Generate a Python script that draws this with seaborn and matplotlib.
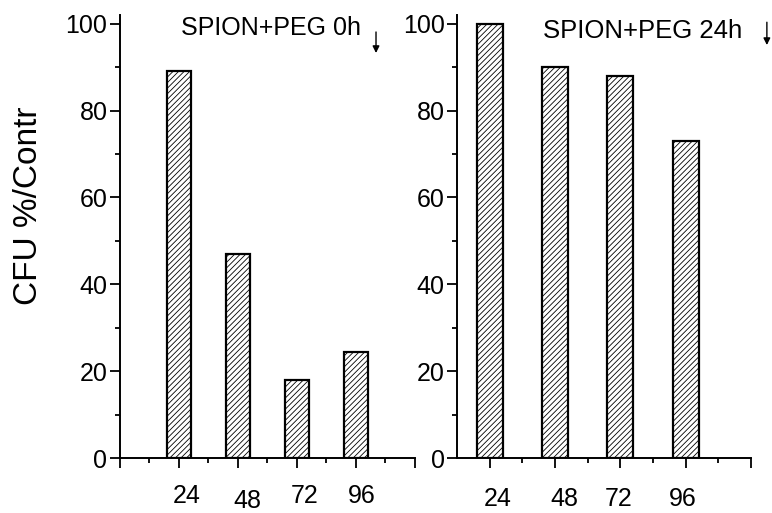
import matplotlib
matplotlib.use("Agg")
import matplotlib.pyplot as plt
import matplotlib.transforms as mtransforms
import pandas as pd
import seaborn as sns

# data
hours = [24, 48, 72, 96]
cfu_0h = [89, 47, 18, 24.5]
cfu_24h = [100, 90, 88, 73]
titles = ["SPION+PEG 0h", "SPION+PEG 24h"]
ylabel = "CFU %/Contr"

sns.set_style("ticks")
plt.rcParams["font.family"] = ["Liberation Sans", "DejaVu Sans"]
plt.rcParams["hatch.linewidth"] = 0.6
for k in ["text.color", "axes.labelcolor", "xtick.color", "ytick.color", "axes.edgecolor"]:
    plt.rcParams[k] = "black"

fig = plt.figure(figsize=(7.72, 5.13), dpi=100)
ax1 = fig.add_axes([0.1554, 0.1072, 0.3821, 0.8635])
ax2 = fig.add_axes([0.5920, 0.1072, 0.3808, 0.8635])


def draw_panel(ax, values, width, xlim, majors, minors, label_shift):
    df = pd.DataFrame({"hour": hours, "cfu": values})
    sns.barplot(data=df, x="hour", y="cfu", native_scale=True, width=width,
                color="white", edgecolor="black", linewidth=1.6, ax=ax)
    for p in ax.patches:
        p.set_hatch("//////")
        p.set_facecolor("white")
    ax.set_xlim(*xlim)
    ax.set_ylim(0, 102)
    ax.set_xticks(majors)
    ax.set_xticks(minors, minor=True)
    ax.set_xticklabels([str(m) if m in hours else "" for m in majors])
    ax.set_yticks(range(0, 101, 20))
    ax.set_yticks(range(10, 100, 20), minor=True)
    ax.set_xlabel("")
    ax.set_ylabel("")
    sns.despine(ax=ax)
    for s in ["left", "bottom"]:
        ax.spines[s].set_linewidth(1.4)
        ax.spines[s].set_color("black")
    ax.tick_params(which="major", length=7, width=1.3, labelsize=18, direction="out", colors="black")
    ax.tick_params(which="minor", length=3.5, width=1.3, direction="out", colors="black")
    ax.tick_params(axis="x", which="major", pad=12)
    ax.tick_params(axis="y", which="major", pad=2)
    # shift the hour labels like in the original
    lbls = [t for t in ax.get_xticklabels() if t.get_text()]
    for t, (dx, dy) in zip(lbls, label_shift):
        t.set_transform(t.get_transform() +
                        mtransforms.ScaledTranslation(dx / 100, -dy / 100, fig.dpi_scale_trans))


draw_panel(ax1, cfu_0h, 10 / 24, (0, 120), [0, 24, 48, 72, 96, 120], [12, 36, 60, 84, 108],
           [(8, 0), (9, 5), (8, 0), (6, 0)])
draw_panel(ax2, cfu_24h, 9.5 / 24, (12, 120), [24, 48, 72, 96, 120], [36, 60, 84, 108],
           [(8, 3), (9, 3), (-2, 3), (-3, 3)])

ax1.text(0.207, 0.971, titles[0], transform=ax1.transAxes, fontsize=18, va="center", ha="left")
ax2.text(0.293, 0.964, titles[1], transform=ax2.transAxes, fontsize=18.5, va="center", ha="left")
ax1.annotate("", xy=(0.868, 0.908), xytext=(0.868, 0.968), xycoords="axes fraction",
             arrowprops=dict(arrowstyle="-|>", color="black", lw=1, mutation_scale=10),
             annotation_clip=False)
ax2.annotate("", xy=(1.054, 0.926), xytext=(1.054, 0.99), xycoords="axes fraction",
             arrowprops=dict(arrowstyle="-|>", color="black", lw=1, mutation_scale=10),
             annotation_clip=False)

fig.text(0.037, 0.598, ylabel, rotation=90, fontsize=24, ha="center", va="center")

fig.savefig("out.png", dpi=100)
